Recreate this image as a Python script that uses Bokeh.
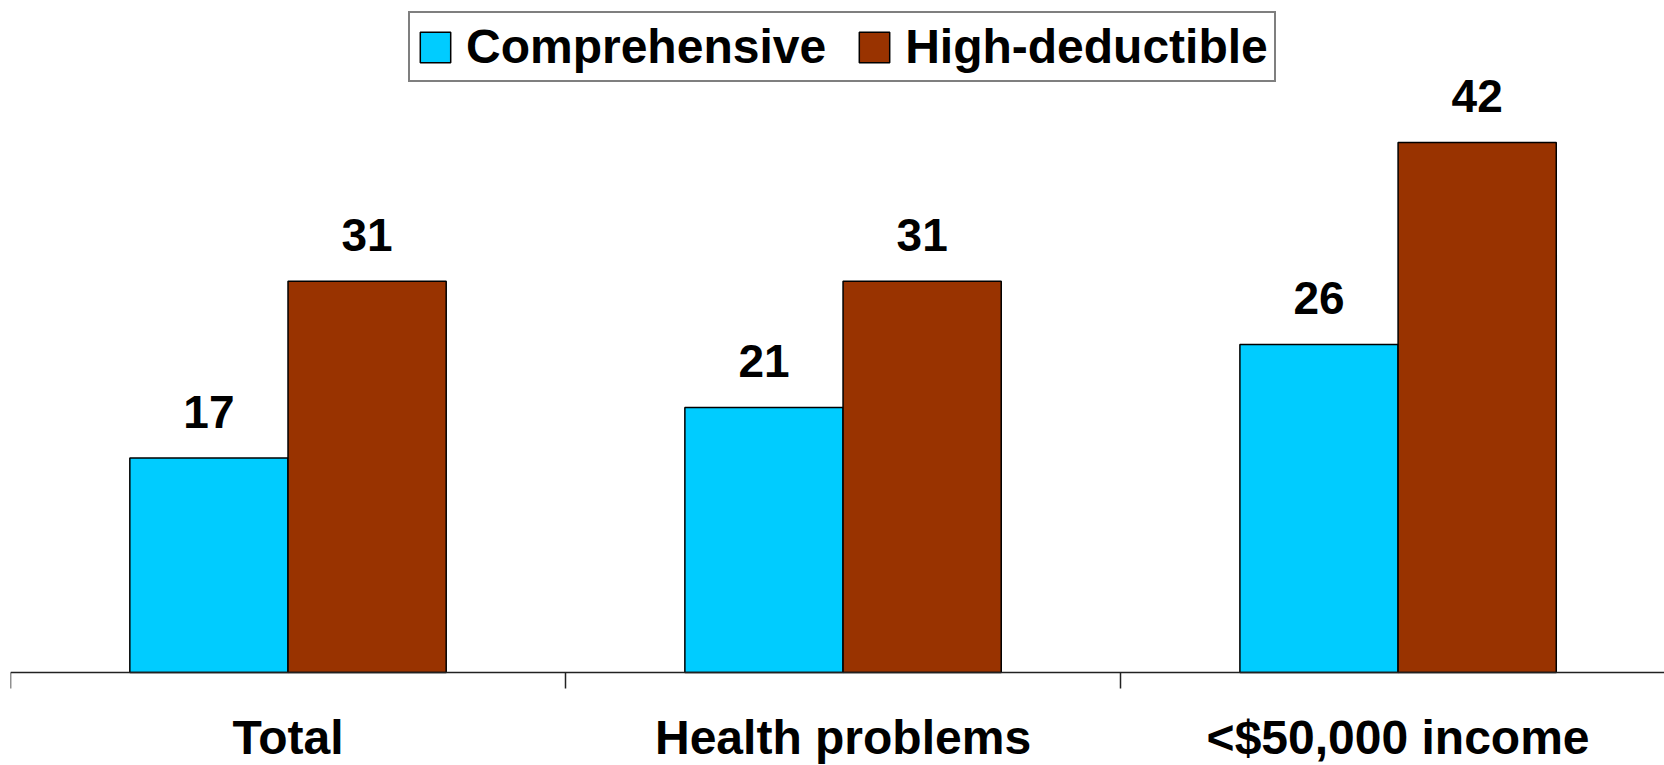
from bokeh.plotting import figure
from bokeh.models import ColumnDataSource, FixedTicker, Range1d
from bokeh.core.properties import value
from bokeh.embed import file_html
from bokeh.resources import INLINE

# Share of adults in each group (percent)
categories = ["Total", "Health problems", "<$50,000 income"]
comprehensive = [17, 21, 26]
high_deductible = [31, 31, 42]

series_names = ["Comprehensive", "High-deductible"]
series_colors = ["#00CCFF", "#993300"]

FONT = "Liberation Sans"
BAR_W = 0.285

centers = [i + 0.5 for i in range(len(categories))]
src_c = ColumnDataSource(dict(
    x=[c - BAR_W / 2 for c in centers], top=comprehensive,
    label=[str(v) for v in comprehensive]))
src_h = ColumnDataSource(dict(
    x=[c + BAR_W / 2 for c in centers], top=high_deductible,
    label=[str(v) for v in high_deductible]))

# The frame fills the page; the category axis sits on the zero line
p = figure(width=1664, height=765, output_backend="svg", toolbar_location=None,
           x_range=Range1d(0, 2.98), y_range=Range1d(-7.37, 53.25),
           min_border_left=10, min_border_right=0, min_border_top=0,
           min_border_bottom=0)
p.outline_line_color = None
p.grid.visible = False
p.yaxis.visible = False
p.background_fill_color = "white"

for src, name, color in [(src_c, series_names[0], series_colors[0]),
                         (src_h, series_names[1], series_colors[1])]:
    p.vbar(x="x", top="top", width=BAR_W, bottom=0, source=src,
           fill_color=color, line_color="black", line_width=1.5,
           legend_label=name)
    p.text(x="x", y="top", text="label", source=src,
           text_font=value(FONT), text_font_style="bold",
           text_font_size="46px", text_color="black",
           text_align="center", text_baseline="middle", y_offset=-46)

# Category axis: boundary ticks, labels centred under each group
ax = p.xaxis[0]
ax.fixed_location = 0
ax.ticker = FixedTicker(ticks=centers,
                        minor_ticks=list(range(len(categories) + 1)))
ax.major_label_overrides = {c: lab for c, lab in zip(centers, categories)}
ax.major_tick_line_color = None
ax.major_tick_out = 0
ax.major_tick_in = 0
ax.minor_tick_line_color = "#222222"
ax.minor_tick_line_width = 1.5
ax.minor_tick_out = 16
ax.minor_tick_in = 0
ax.axis_line_color = "#222222"
ax.axis_line_width = 1.5
ax.major_label_standoff = 23
ax.major_label_text_font = FONT
ax.major_label_text_font_style = "bold"
ax.major_label_text_font_size = "48px"
ax.major_label_text_color = "black"

lg = p.legend[0]
lg.location = (398, 683)
lg.orientation = "horizontal"
lg.margin = 0
lg.padding = 6
lg.spacing = 29
lg.glyph_width = 38
lg.glyph_height = 38
lg.label_standoff = 12
lg.label_text_font = FONT
lg.label_text_font_style = "bold"
lg.label_text_font_size = "48px"
lg.label_text_color = "black"
lg.border_line_color = "black"
lg.border_line_width = 2
lg.background_fill_alpha = 1.0

open("out.html", "w").write(file_html(p, INLINE))
